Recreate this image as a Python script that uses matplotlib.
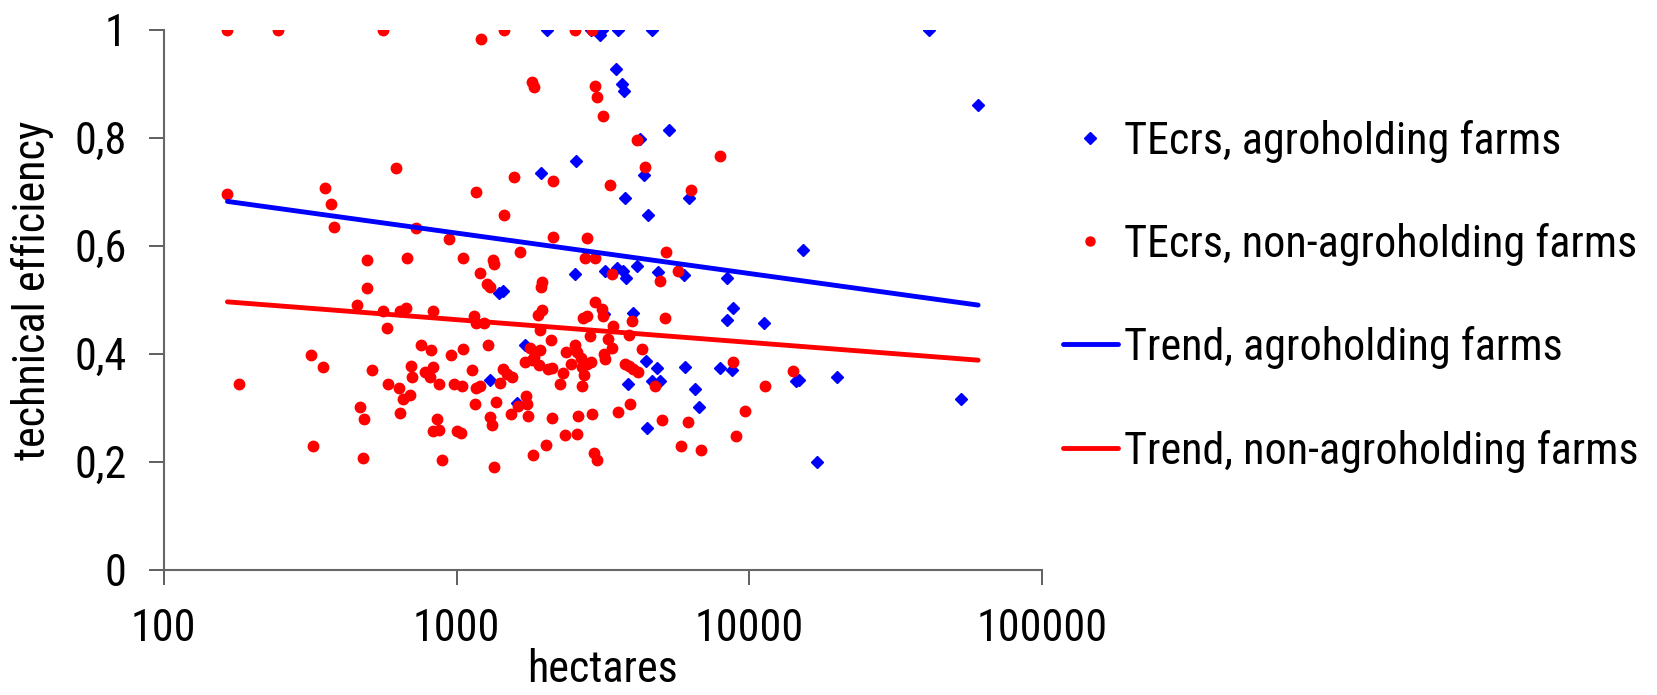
import matplotlib
matplotlib.use("Agg")
import matplotlib.pyplot as plt
import matplotlib.font_manager as fm
from matplotlib.font_manager import FontProperties
from matplotlib.lines import Line2D

# ---- data ----
agro_ha = [2038, 2889, 3132, 3093, 3572, 4667, 41100, 3497, 3684, 3727, 60500, 5336, 4236,
           2553, 1950, 4373, 3773, 6241, 4512, 15300, 2546, 3218, 3527, 3715, 3802, 4126,
           4891, 5985, 8400, 8826, 1400, 1445, 3200, 3998, 8380, 11270, 1710, 4430, 4840,
           6030, 7940, 8750, 1298, 3864, 4667, 4946, 6530, 6740, 1606, 4480, 14420, 14840,
           19950, 52900, 17050]
agro_te = [1.0, 1.0, 1.0, 0.990, 1.0, 1.0, 1.0, 0.927, 0.900, 0.886, 0.860, 0.815, 0.797,
           0.757, 0.735, 0.731, 0.688, 0.689, 0.657, 0.592, 0.548, 0.554, 0.558, 0.554, 0.541, 0.563,
           0.552, 0.545, 0.540, 0.484, 0.512, 0.516, 0.474, 0.475, 0.462, 0.456, 0.416, 0.387, 0.373,
           0.376, 0.374, 0.370, 0.351, 0.344, 0.349, 0.349, 0.335, 0.301, 0.308, 0.262, 0.349, 0.352,
           0.357, 0.316, 0.200]

non_ha = [165, 246, 560, 621, 164, 354, 374, 380, 726, 943, 496, 677, 1050, 496, 456, 560, 641,
          674, 829, 577, 318, 350, 180, 513, 755, 817, 960, 1050, 697, 829, 783, 812, 703, 582,
          636, 871, 983, 1047, 692, 658, 468, 482, 643, 857, 833, 869, 1002, 1033, 323, 479, 894,
          1210, 1456, 2533, 2897, 1807, 1845, 2965, 3028, 3167, 4150, 7963, 4405, 1575, 2131,
          3343, 1166, 6325, 1449, 2142, 2787, 1651, 5184, 1336, 1347, 2754, 2965, 1200, 3398,
          5700, 4946, 1271, 1301, 1965, 1950, 2979, 3132,
          1148, 1166, 1242, 1893, 1960, 1923, 3167, 2711, 2787, 3414, 3981, 5143, 2858, 3296,
          3890, 3388, 4315, 1282, 2108, 1787, 1933, 2366, 2541, 2582, 3191, 3215, 1718, 1807,
          1845, 1919, 2054, 2120, 2470, 2657, 2685, 2889, 2793, 2306, 2733, 3755, 3875, 4010,
          4160, 1133, 1445, 1484, 1548, 1166, 1203, 1408, 2263, 2676, 4779, 1732, 1746, 1619,
          1160, 1361, 1298, 1322, 1535, 1759, 2120, 2594, 2904, 3554, 3924, 5036, 6178, 9660,
          11320, 8780, 2339, 2587, 2017, 1821, 2958, 3013, 1347, 5863, 6827, 8990, 14120]
non_te = [1.0, 1.0, 1.0, 0.743, 0.696, 0.706, 0.678, 0.634, 0.632, 0.613, 0.573, 0.577, 0.577,
          0.521, 0.490, 0.479, 0.479, 0.485, 0.480, 0.447, 0.398, 0.375, 0.344, 0.370, 0.417, 0.406,
          0.397, 0.409, 0.378, 0.375, 0.366, 0.356, 0.356, 0.343, 0.336, 0.344, 0.344, 0.341, 0.323,
          0.316, 0.301, 0.280, 0.291, 0.279, 0.257, 0.259, 0.256, 0.254, 0.229, 0.206, 0.203,
          0.983, 1.0, 1.0, 1.0, 0.903, 0.893, 0.896, 0.876, 0.841, 0.795, 0.766, 0.745, 0.727, 0.719,
          0.712, 0.699, 0.704, 0.656, 0.616, 0.614, 0.589, 0.589, 0.573, 0.567, 0.577, 0.577, 0.550,
          0.548, 0.553, 0.534, 0.529, 0.524, 0.533, 0.524, 0.496, 0.482,
          0.469, 0.456, 0.457, 0.472, 0.481, 0.444, 0.470, 0.466, 0.470, 0.451, 0.461, 0.467, 0.433,
          0.428, 0.434, 0.411, 0.409, 0.416, 0.425, 0.411, 0.406, 0.403, 0.416, 0.404, 0.399, 0.391,
          0.385, 0.388, 0.394, 0.380, 0.372, 0.374, 0.381, 0.392, 0.376, 0.384, 0.381, 0.364, 0.360,
          0.381, 0.378, 0.372, 0.366, 0.370, 0.372, 0.363, 0.357, 0.336, 0.341, 0.345, 0.344, 0.341,
          0.341, 0.322, 0.306, 0.304, 0.307, 0.311, 0.283, 0.268, 0.288, 0.285, 0.281, 0.285, 0.289,
          0.292, 0.306, 0.278, 0.273, 0.294, 0.340, 0.385, 0.249, 0.252, 0.231, 0.213, 0.217, 0.204,
          0.190, 0.230, 0.222, 0.247, 0.368]

trend_ha = [165, 60500]
trend_agro = [0.682, 0.490]
trend_non = [0.496, 0.388]

x_ticks = [100, 1000, 10000, 100000]
x_tick_labels = ['100', '1000', '10000', '100000']
y_ticks = [0, 0.2, 0.4, 0.6, 0.8, 1.0]
y_tick_labels = ['0', '0,2', '0,4', '0,6', '0,8', '1']

labels = ['TEcrs, agroholding farms', 'TEcrs, non-agroholding farms',
          'Trend, agroholding farms', 'Trend, non-agroholding farms']

BLUE = '#0000FF'
RED = '#FF0000'
W, H = 1658, 695


# ---- choose a narrow sans font (Arial Narrow look-alike) if one is installed ----
def pick_font():
    fl = fm.fontManager.ttflist

    def regular(f):
        return f.style == 'normal' and f.weight in (400, 'normal', 'regular', 'book')

    for nm in ['Liberation Sans Narrow', 'Arial Narrow', 'Roboto Condensed',
               'Noto Sans Condensed', 'Open Sans Condensed', 'DejaVu Sans Condensed']:
        for f in fl:
            if f.name == nm and regular(f):
                return f.fname
    for st in ['condensed', 'semi-condensed']:
        for base in ['Roboto', 'Noto Sans', 'Open Sans', 'Liberation Sans', 'DejaVu Sans', 'Lato', 'Inter']:
            for f in fl:
                if f.name == base and regular(f) and str(f.stretch) == st:
                    return f.fname
    for f in fl:
        if 'narrow' in f.name.lower() and regular(f) and 'sans' in f.name.lower():
            return f.fname
    return fm.findfont(FontProperties(family='Liberation Sans'))


FONT_FILE = pick_font()

fig = plt.figure(figsize=(W / 100, H / 100), dpi=100)
renderer = fig.canvas.get_renderer()

# fit font size so the longest legend label is ~513 px wide (as in the reference), max 34.5 pt
probe = fig.text(0, 0, labels[1], fontproperties=FontProperties(fname=FONT_FILE, size=34.5))
wpx = probe.get_window_extent(renderer).width
probe.remove()
FS = min(34.5, 34.5 * 513 / wpx)
fp = FontProperties(fname=FONT_FILE, size=FS)
cap_px = 0.72 * FS * 100 / 72

ax = fig.add_axes([163.8 / W, 1 - 569.7 / H, (1042 - 163.8) / W, 540 / H])

ax.plot(agro_ha, agro_te, linestyle='none', marker='D', ms=6.5, color=BLUE, mec=BLUE, zorder=3)
ax.plot(non_ha, non_te, linestyle='none', marker='o', ms=7.5, color=RED, mec=RED, zorder=4)
ax.plot(trend_ha, trend_agro, color=BLUE, lw=3.5, solid_capstyle='round', zorder=5)
ax.plot(trend_ha, trend_non, color=RED, lw=3.5, solid_capstyle='round', zorder=5)

ax.set_xscale('log')
ax.set_xlim(100, 100000)
ax.set_ylim(0, 1)
ax.set_xticks(x_ticks)
ax.set_xticklabels(x_tick_labels)
ax.minorticks_off()
ax.set_yticks(y_ticks)
ax.set_yticklabels(y_tick_labels)

for s in ['top', 'right']:
    ax.spines[s].set_visible(False)
for s in ['left', 'bottom']:
    ax.spines[s].set_color('#666666')
    ax.spines[s].set_linewidth(1.5)

PX = 72 / 100  # points per pixel
ax.tick_params(axis='both', direction='out', length=15 * PX, width=1.2, color='#444444')
# x labels: baseline at ~641 px from top
ax.tick_params(axis='x', pad=(641 - 569.7 - 15) * PX)
for lb in ax.get_xticklabels():
    lb.set_fontproperties(fp)
    lb.set_va('baseline')
ax.tick_params(axis='y', pad=22 * PX)
for lb in ax.get_yticklabels():
    lb.set_fontproperties(fp)

# axis titles
fig.text(603 / W, 1 - 682 / H, 'hectares', fontproperties=fp, ha='center', va='baseline')
fig.text(33 / W, 1 - 290 / H, 'technical efficiency', fontproperties=fp,
         rotation=90, ha='center', va='center')

# legend (placed as in the reference)
row_y = [137.7, 241.0, 344.3, 447.7]
handles = [
    dict(marker='D', ms=6, color=BLUE, lw=0),
    dict(marker='o', ms=6.5, color=RED, lw=0),
    dict(marker=None, color=BLUE, lw=3.5),
    dict(marker=None, color=RED, lw=3.5),
]
for yy, h, lab in zip(row_y, handles, labels):
    yf = 1 - yy / H
    if h['marker'] is None:
        fig.add_artist(Line2D([1063 / W, 1118 / W], [yf, yf], color=h['color'], lw=h['lw'],
                              solid_capstyle='round', transform=fig.transFigure))
    else:
        fig.add_artist(Line2D([1090 / W], [yf], marker=h['marker'], ms=h['ms'], color=h['color'],
                              linestyle='none', transform=fig.transFigure))
    fig.text(1124 / W, 1 - (yy + cap_px / 2) / H, lab, fontproperties=fp, ha='left', va='baseline')

fig.savefig('out.png', dpi=100)
